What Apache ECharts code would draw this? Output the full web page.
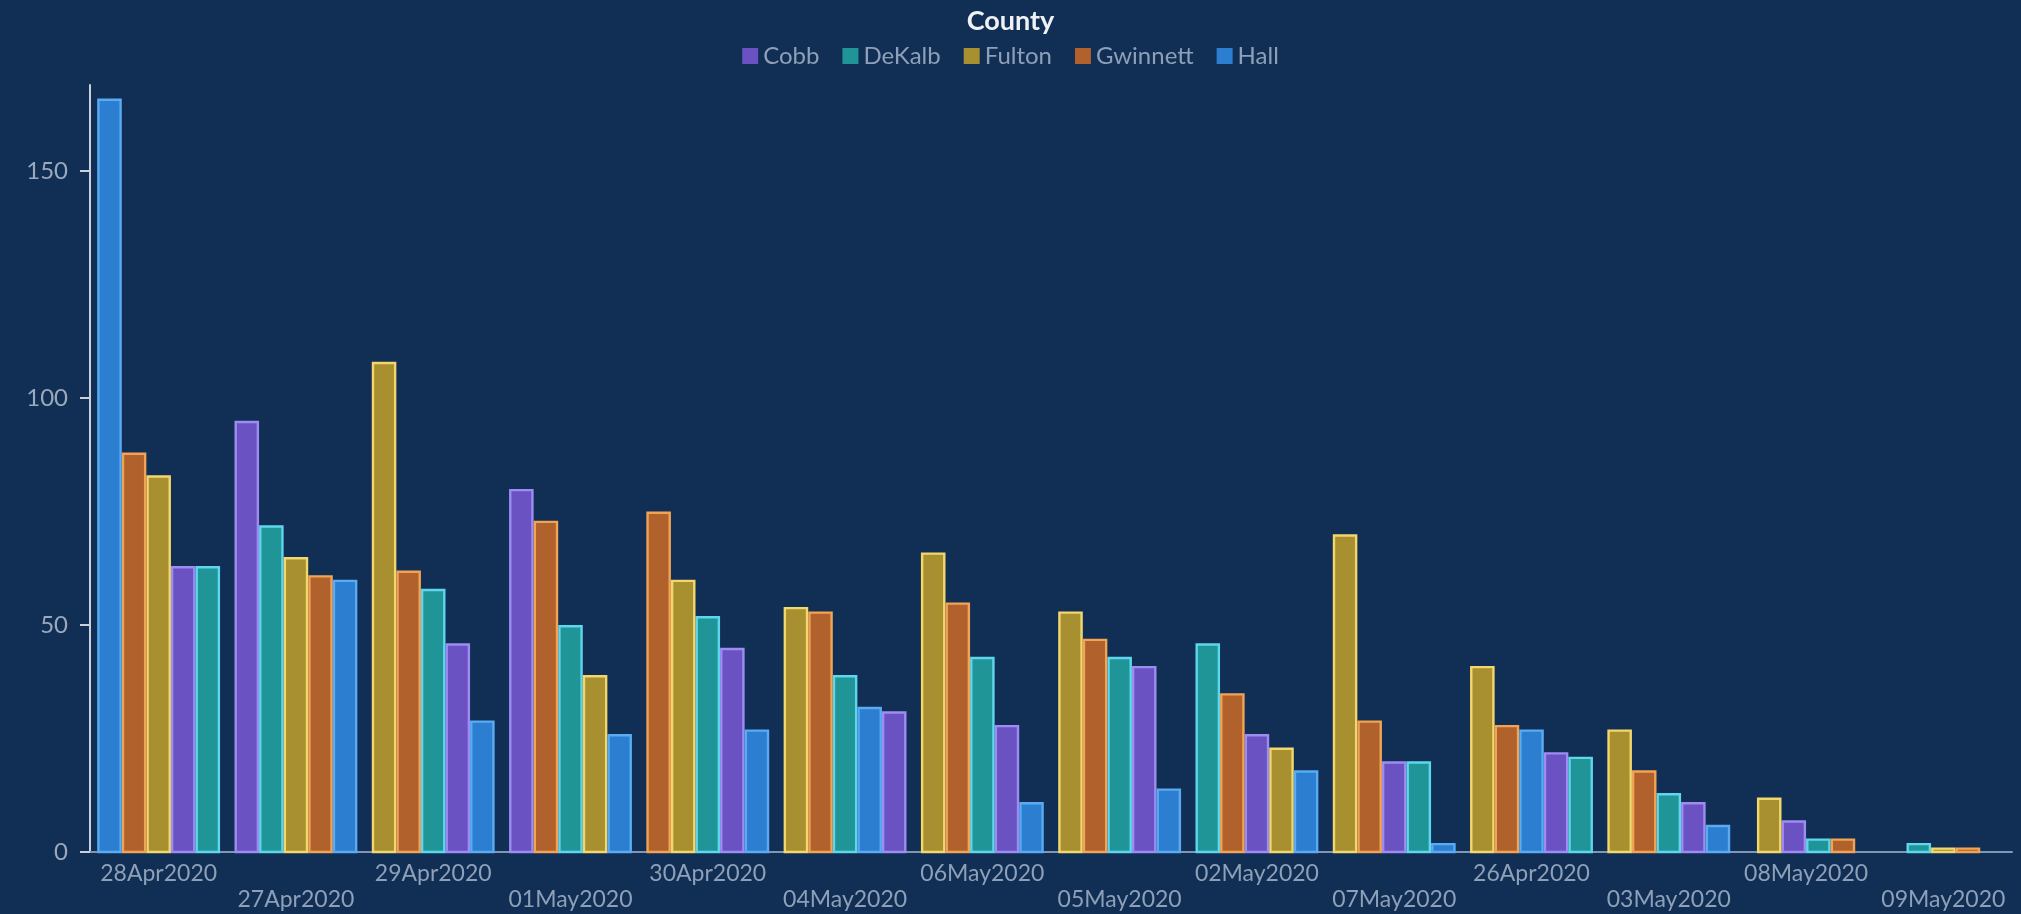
<!DOCTYPE html>
<html>
<head>
<meta charset="utf-8">
<script src="https://cdn.jsdelivr.net/npm/echarts@6/dist/echarts.min.js"></script>
<style>
html,body{margin:0;padding:0;background:#112e54;}
#chart{width:2021px;height:914px;}
</style>
</head>
<body>
<div id="chart"></div>
<script>
// ---- data ----
var categories = ['28Apr2020','27Apr2020','29Apr2020','01May2020','30Apr2020','04May2020','06May2020','05May2020','02May2020','07May2020','26Apr2020','03May2020','08May2020','09May2020'];
var counties = ['Cobb','DeKalb','Fulton','Gwinnett','Hall'];
var cobb     = [63, 95, 46, 80, 45, 31, 28, 41, 26, 20, 22, 11, 7, 0];
var dekalb   = [63, 72, 58, 50, 52, 39, 43, 43, 46, 20, 21, 13, 3, 2];
var fulton   = [83, 65, 108, 39, 60, 54, 66, 53, 23, 70, 41, 27, 12, 1];
var gwinnett = [88, 61, 62, 73, 75, 53, 55, 47, 35, 29, 28, 18, 3, 1];
var hall     = [166, 60, 29, 26, 27, 32, 11, 14, 18, 2, 27, 6, 0, 0];
var yTicks = [0, 50, 100, 150];

var allVals = [cobb, dekalb, fulton, gwinnett, hall];
var fills   = ['#6a52c2', '#1f9598', '#a88f2f', '#b0612c', '#2b7ed0'];
var strokes = ['#9d8cf2', '#5fd6ec', '#f2d86c', '#f2a455', '#5aabf2'];

function makeRender(k) {
  return function (params, api) {
    var ci = api.value(0);
    var v = api.value(1);
    if (!(v > 0)) return null;
    var list = [];
    for (var j = 0; j < allVals.length; j++) {
      if (allVals[j][ci] > 0) list.push({k: j, v: allVals[j][ci]});
    }
    list.sort(function (a, b) { return (b.v - a.v) || (a.k - b.k); });
    var rank = 0;
    for (var r = 0; r < list.length; r++) if (list[r].k === k) rank = r;
    var n = list.length;
    var band = api.size([1, 0])[0];
    var bw = band * 0.179;
    var base = api.coord([ci, 0]);
    var top = api.coord([ci, v]);
    var x0 = base[0] - n * bw / 2 + rank * bw;
    var inset = 1.2;
    return {
      type: 'rect',
      shape: {x: x0 + inset, y: top[1] + inset, width: bw - 2 * inset, height: Math.max(base[1] - top[1] - inset, 0.5)},
      style: {fill: fills[k], stroke: strokes[k], lineWidth: 2.4}
    };
  };
}

var series = counties.map(function (name, k) {
  return {
    name: name,
    type: 'custom',
    renderItem: makeRender(k),
    encode: {x: 0, y: 1},
    itemStyle: {color: fills[k]},
    data: allVals[k].map(function (v, i) { return [i, v]; })
  };
});

var chart = echarts.init(document.getElementById('chart'));
chart.setOption({
  backgroundColor: '#112e54',
  animation: false,
  title: {
    text: 'County', left: 'center', top: 3,
    textStyle: {color: '#eef2f7', fontSize: 27, fontWeight: 'bold', fontFamily: 'Lato'}
  },
  legend: {
    top: 39, left: 'center', icon: 'rect', itemWidth: 16, itemHeight: 16, itemGap: 23,
    textStyle: {color: '#8ea0b8', fontSize: 24, fontFamily: 'Lato'},
    data: counties
  },
  grid: {left: 90, right: 9, top: 85, bottom: 62},
  xAxis: {
    type: 'category',
    data: categories,
    boundaryGap: true,
    axisLine: {show: true, lineStyle: {color: '#7f97b5', width: 2}},
    axisTick: {show: false},
    axisLabel: {
      interval: 0, color: '#8ea0b8', fontSize: 23, fontFamily: 'Lato', lineHeight: 26, margin: 9,
      formatter: function (val, idx) { return idx % 2 === 1 ? '\n' + val : val; }
    },
    splitLine: {show: false}
  },
  yAxis: {
    type: 'value', min: 0, max: 169, interval: 50,
    axisLine: {show: true, lineStyle: {color: '#c9d1dc', width: 2}},
    axisTick: {show: true, length: 10, customValues: yTicks, lineStyle: {color: '#c9d1dc', width: 2}},
    axisLabel: {color: '#9aa9bd', fontSize: 24, fontFamily: 'Lato', margin: 22, customValues: yTicks},
    splitLine: {show: false}
  },
  series: series
});
</script>
</body>
</html>
